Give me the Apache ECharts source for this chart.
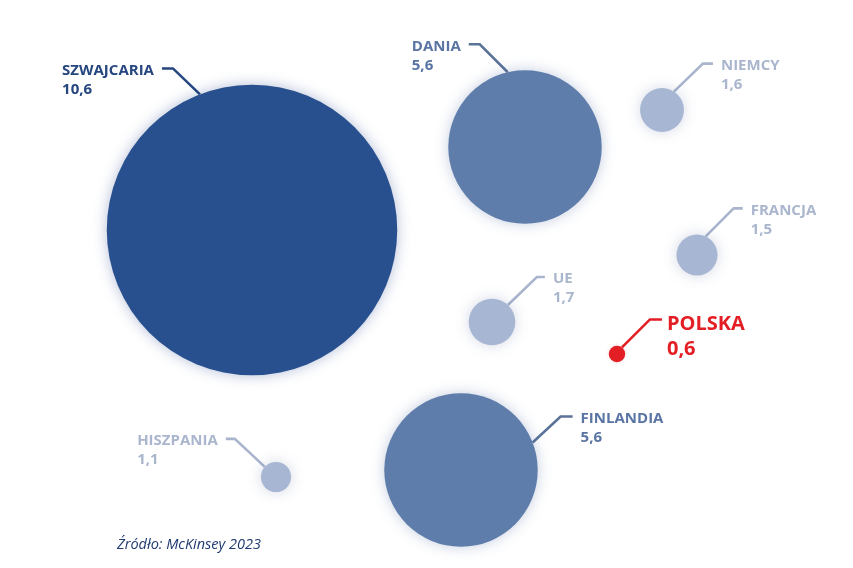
<!DOCTYPE html>
<html>
<head>
<meta charset="utf-8">
<script src="https://cdn.jsdelivr.net/npm/echarts@6/dist/echarts.min.js"></script>
<style>
html,body{margin:0;padding:0;background:#fff;}
#c{width:853px;height:568px;}
</style>
</head>
<body>
<div id="c"></div>
<script>
// ---- data ----
var countries = ['SZWAJCARIA', 'DANIA', 'NIEMCY', 'FRANCJA', 'UE', 'POLSKA', 'HISZPANIA', 'FINLANDIA'];
var values    = [10.6, 5.6, 1.6, 1.5, 1.7, 0.6, 1.1, 5.6];
// bubble placement (layout coordinates of the original graphic)
var posX = [252, 525, 662, 697, 492, 617, 276, 461];
var posY = [230, 147, 110, 255, 322, 354, 477, 470];
var sourceText = 'Źródło: McKinsey 2023';

// ---- layout / style ----
var RADIUS_PER_UNIT = 13.7;
// edge angle (deg, screen coords), diagonal dx, dy, horizontal length
var leaderAngle = [249, 257, 303, 295, 313, 307, 222, 339];
var leaderDX    = [-27, -28, 29, 28, 29, 28, -30, 28];
var leaderDY    = [-26, -28, -28, -28, -28, -28, -28, -26];
var leaderH     = [-11, -11, 10, 9, 8, 12, -9, 12];
var tier        = [0, 1, 2, 2, 2, 3, 2, 1];
var fills   = ['#284f8e', '#5f7dab', '#a7b7d3', '#e31e25'];
var lines   = ['#26467f', '#5b7399', '#a9b5cc', '#e31e25'];
var texts   = ['#26467f', '#5a75a3', '#aab6cd', '#e31e25'];
var glow    = ['rgba(40,70,140,0.35)', 'rgba(60,90,150,0.3)', 'rgba(80,100,150,0.25)', 'rgba(220,30,40,0.15)'];
var FONT_FAMILY = '"Open Sans", "Noto Sans", sans-serif';

var measureCtx = document.createElement('canvas').getContext('2d');
function textWidth(t, font) { measureCtx.font = font; return measureCtx.measureText(t).width; }
function fmt(v) { return v.toFixed(1).replace('.', ','); }

var chart = echarts.init(document.getElementById('c'), null, {renderer: 'canvas'});

var seriesData = countries.map(function (n, i) { return [posX[i], posY[i], values[i], i]; });

function renderItem(params, api) {
  var i = api.value(3);
  var v = api.value(2);
  var c = api.coord([api.value(0), api.value(1)]);
  var r = v * RADIUS_PER_UNIT;
  var t = tier[i];
  var a = leaderAngle[i] * Math.PI / 180;
  var edge = [c[0] + r * Math.cos(a), c[1] + r * Math.sin(a)];
  var elbow = [edge[0] + leaderDX[i], edge[1] + leaderDY[i]];
  var end = [elbow[0] + leaderH[i], elbow[1]];
  var big = (t === 3);
  var fs = big ? 20 : 15;
  var nameFont = 'bold ' + fs + 'px ' + FONT_FAMILY;
  var gap = big ? 5 : 8;
  var right = leaderH[i] > 0;
  var nameW = textWidth(countries[i], nameFont);
  var lx = right ? end[0] + gap : end[0] - gap - nameW;
  var ny = elbow[1] + (big ? 5 : 2);
  var vy = ny + (big ? 25 : 19);
  return {
    type: 'group',
    children: [
      {
        type: 'polyline',
        shape: {points: [edge, elbow, end]},
        style: {stroke: lines[t], lineWidth: 2.6, fill: null}
      },
      {
        type: 'circle',
        shape: {cx: c[0], cy: c[1], r: r},
        style: {fill: fills[t], shadowBlur: big ? 4 : 14, shadowColor: glow[t]}
      },
      {
        type: 'text',
        x: lx, y: ny,
        style: {text: countries[i], fill: texts[t], font: nameFont, align: 'left', verticalAlign: 'middle'}
      },
      {
        type: 'text',
        x: lx, y: vy,
        style: {text: fmt(v), fill: texts[t], font: nameFont, align: 'left', verticalAlign: 'middle'}
      }
    ]
  };
}

chart.setOption({
  animation: false,
  grid: {left: 0, right: 0, top: 0, bottom: 0},
  xAxis: {type: 'value', min: 0, max: 853, show: false},
  yAxis: {type: 'value', min: 0, max: 568, inverse: true, show: false},
  series: [{
    type: 'custom',
    renderItem: renderItem,
    data: seriesData,
    clip: false
  }],
  graphic: [{
    type: 'text',
    left: 117, top: 537,
    style: {text: sourceText, fill: '#1f3a70', font: 'italic 14.5px ' + FONT_FAMILY}
  }]
});
</script>
</body>
</html>
